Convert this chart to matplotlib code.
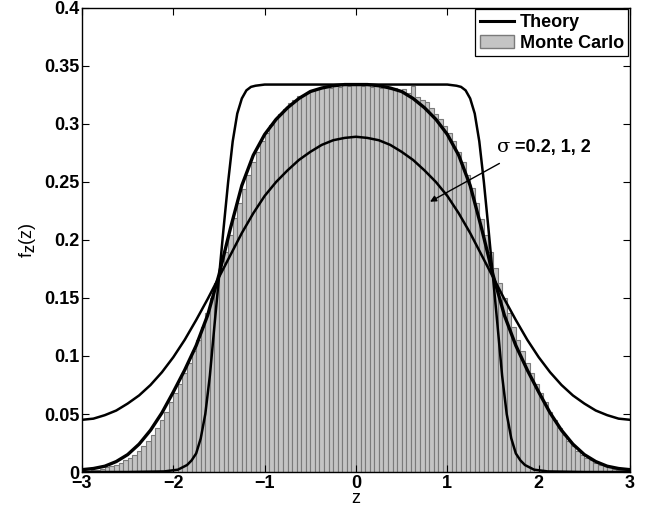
import matplotlib
matplotlib.use("Agg")
import matplotlib.pyplot as plt
import numpy as np
from matplotlib.patches import Patch
from matplotlib.lines import Line2D

# theory curves, values (symmetric about z = 0)
z_s02 = [-3.0, -2.5, -2.1, -1.95, -1.85, -1.8, -1.75, -1.7, -1.65, -1.6, -1.55, -1.5,
         -1.45, -1.4, -1.35, -1.3, -1.25, -1.2, -1.15, -1.1, -1.0, 0.0,
         1.0, 1.1, 1.15, 1.2, 1.25, 1.3, 1.35, 1.4, 1.45, 1.5, 1.55, 1.6, 1.65, 1.7,
         1.75, 1.8, 1.85, 1.95, 2.1, 2.5, 3.0]
f_s02 = [0.0, 0.0, 0.0005, 0.002, 0.006, 0.010, 0.016, 0.029, 0.050, 0.083, 0.126, 0.168,
         0.210, 0.250, 0.285, 0.309, 0.322, 0.329, 0.332, 0.333, 0.334, 0.334,
         0.334, 0.333, 0.332, 0.329, 0.322, 0.309, 0.285, 0.250, 0.210, 0.168, 0.126, 0.083,
         0.050, 0.029, 0.016, 0.010, 0.006, 0.002, 0.0005, 0.0, 0.0]

z_s1 = [-3.0, -2.875, -2.75, -2.625, -2.5, -2.375, -2.25, -2.125, -2.0, -1.875, -1.75,
        -1.625, -1.5, -1.375, -1.25, -1.125, -1.0, -0.875, -0.75, -0.625, -0.5, -0.375,
        -0.25, -0.125, 0.0, 0.125, 0.25, 0.375, 0.5, 0.625, 0.75, 0.875, 1.0, 1.125, 1.25,
        1.375, 1.5, 1.625, 1.75, 1.875, 2.0, 2.125, 2.25, 2.375, 2.5, 2.625, 2.75, 2.875, 3.0]
f_s1 = [0.002, 0.003, 0.005, 0.009, 0.015, 0.024, 0.036, 0.051, 0.069, 0.088, 0.109,
        0.135, 0.170, 0.210, 0.247, 0.273, 0.291, 0.304, 0.314, 0.322, 0.328, 0.331,
        0.333, 0.334, 0.334, 0.334, 0.333, 0.331, 0.328, 0.322, 0.314, 0.304, 0.291, 0.273, 0.247,
        0.210, 0.170, 0.135, 0.109, 0.088, 0.069, 0.051, 0.036, 0.024, 0.015, 0.009, 0.005, 0.003, 0.002]

z_s2 = [-3.0, -2.875, -2.75, -2.625, -2.5, -2.375, -2.25, -2.125, -2.0, -1.875, -1.75,
        -1.625, -1.5, -1.375, -1.25, -1.125, -1.0, -0.875, -0.75, -0.625, -0.5, -0.375,
        -0.25, -0.125, 0.0, 0.125, 0.25, 0.375, 0.5, 0.625, 0.75, 0.875, 1.0, 1.125, 1.25,
        1.375, 1.5, 1.625, 1.75, 1.875, 2.0, 2.125, 2.25, 2.375, 2.5, 2.625, 2.75, 2.875, 3.0]
f_s2 = [0.045, 0.046, 0.049, 0.053, 0.059, 0.066, 0.075, 0.086, 0.099, 0.114, 0.131,
        0.149, 0.168, 0.187, 0.206, 0.223, 0.238, 0.250, 0.260, 0.269, 0.276, 0.282,
        0.286, 0.288, 0.289, 0.288, 0.286, 0.282, 0.276, 0.269, 0.260, 0.250, 0.238, 0.223, 0.206,
        0.187, 0.168, 0.149, 0.131, 0.114, 0.099, 0.086, 0.075, 0.066, 0.059, 0.053, 0.049, 0.046, 0.045]

# Monte Carlo histogram, bin width 0.05 on [-3, 3]
bin_width = 0.05
hist_left = [0.001, 0.001, 0.002, 0.002, 0.003, 0.004, 0.005, 0.006, 0.008, 0.010,
             0.012, 0.015, 0.018, 0.022, 0.027, 0.032, 0.038, 0.045, 0.052, 0.060,
             0.068, 0.076, 0.085, 0.094, 0.104, 0.114, 0.125, 0.137, 0.150, 0.163,
             0.176, 0.190, 0.204, 0.219, 0.232, 0.244, 0.256, 0.267, 0.276, 0.285,
             0.292, 0.299, 0.304, 0.309, 0.313, 0.318, 0.321, 0.324, 0.325, 0.327,
             0.329, 0.330, 0.331, 0.332, 0.331, 0.333, 0.332, 0.334, 0.333, 0.334]
hist_right = [0.334, 0.333, 0.334, 0.332, 0.333, 0.331, 0.332, 0.330, 0.331, 0.329,
              0.330, 0.327, 0.333, 0.323, 0.321, 0.319, 0.314, 0.309, 0.304, 0.298,
              0.292, 0.285, 0.276, 0.267, 0.256, 0.245, 0.232, 0.218, 0.204, 0.190,
              0.176, 0.163, 0.150, 0.137, 0.125, 0.114, 0.104, 0.094, 0.085, 0.076,
              0.068, 0.060, 0.052, 0.045, 0.038, 0.032, 0.027, 0.022, 0.018, 0.015,
              0.012, 0.010, 0.008, 0.006, 0.005, 0.004, 0.003, 0.002, 0.002, 0.001]
hist_heights = hist_left + hist_right

x_ticks = [-3, -2, -1, 0, 1, 2, 3]
y_ticks = [0, 0.05, 0.1, 0.15, 0.2, 0.25, 0.3, 0.35, 0.4]
y_ticklabels = ["0", "0.05", "0.1", "0.15", "0.2", "0.25", "0.3", "0.35", "0.4"]

plt.rcParams.update({
    "font.family": ["Liberation Sans", "DejaVu Sans"],
    "font.weight": "bold",
    "font.size": 13,
    "mathtext.fontset": "custom",
    "mathtext.rm": "Liberation Sans:bold",
    "mathtext.bf": "Liberation Sans:bold",
    "mathtext.it": "Liberation Sans:bold",
})

fig = plt.figure(figsize=(6.46, 5.11), dpi=100)
ax = fig.add_axes([82 / 646, 39 / 511, 548 / 646, 464 / 511])

centers = np.arange(len(hist_heights)) * bin_width - 3 + bin_width / 2
ax.bar(centers, hist_heights, width=bin_width, color="#c4c4c4",
       edgecolor="#7a7a7a", linewidth=0.8, zorder=1)

ax.plot(z_s02, f_s02, color="black", lw=1.8, zorder=3)
ax.plot(z_s2, f_s2, color="black", lw=1.8, zorder=3)
ax.plot(z_s1, f_s1, color="black", lw=2.4, zorder=4)

ax.set_xlim(-3, 3)
ax.set_ylim(0, 0.4)
ax.set_xticks(x_ticks)
ax.set_xticklabels(["\u22123", "\u22122", "\u22121", "0", "1", "2", "3"])
ax.set_yticks(y_ticks)
ax.set_yticklabels(y_ticklabels)
ax.tick_params(direction="in", length=5, width=0.8, top=True, right=True, pad=2)
for s in ax.spines.values():
    s.set_linewidth(1.0)

ax.set_xlabel("z", labelpad=-1)
ax.set_ylabel(r"f$_{\mathbf{Z}}$(z)", labelpad=4)

ax.annotate("", xy=(0.81, 0.233), xytext=(1.57, 0.266),
            arrowprops=dict(arrowstyle="-|>", color="black", lw=1.0,
                            mutation_scale=9, shrinkA=0, shrinkB=0), zorder=5)
sig = ax.text(1.54, 0.280, "\u03c3", ha="left", va="center", fontsize=14,
              fontweight="normal", family=["DejaVu Serif"], zorder=5)
ax.annotate(" =0.2, 1, 2", xy=(1.0, 0.5), xycoords=sig, ha="left", va="center",
            fontsize=13, fontweight="bold", zorder=5)

handles = [Line2D([0], [0], color="black", lw=2.2),
           Patch(facecolor="#c4c4c4", edgecolor="#7a7a7a")]
leg = ax.legend(handles, ["Theory", "Monte Carlo"], loc="upper right",
                bbox_to_anchor=(0.997, 0.997), fancybox=False, framealpha=1,
                edgecolor="black", handlelength=1.9, handletextpad=0.3,
                borderpad=0.25, labelspacing=0.2, borderaxespad=0.0,
                prop={"weight": "bold", "size": 13})
leg.get_frame().set_linewidth(0.9)

fig.savefig("out.png", dpi=100, facecolor="white")
